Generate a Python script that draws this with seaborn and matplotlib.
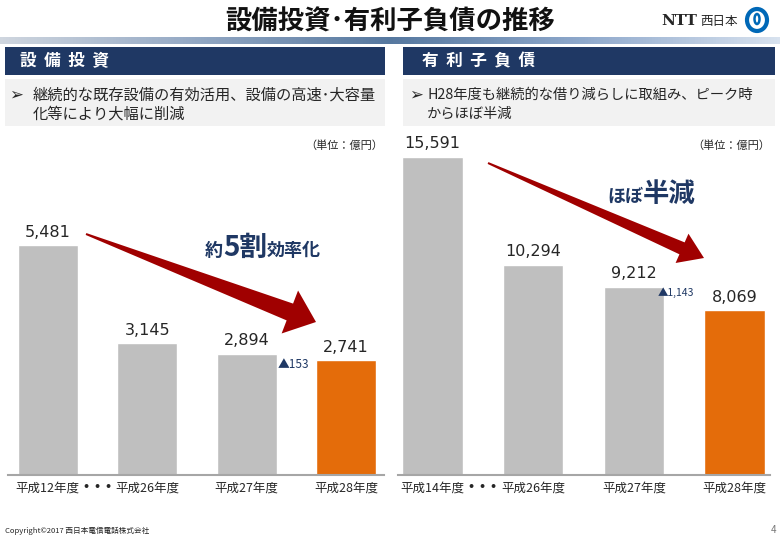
import numpy as np
import pandas as pd
import seaborn as sns
import matplotlib
matplotlib.use("Agg")
import matplotlib.pyplot as plt
from matplotlib.patches import Rectangle, Polygon, Ellipse

# data
capex_years = ["平成12年度", "平成26年度", "平成27年度", "平成28年度"]
capex_values = [5481, 3145, 2894, 2741]
debt_years = ["平成14年度", "平成26年度", "平成27年度", "平成28年度"]
debt_values = [15591, 10294, 9212, 8069]
bar_colors = ["#bfbfbf", "#bfbfbf", "#bfbfbf", "#e46c0a"]

W, H = 780, 540
NAVY = "#1f3864"
JP = ["Noto Sans CJK JP", "DejaVu Sans"]

sns.set_theme(style="white")
plt.rcParams["font.family"] = JP

fig = plt.figure(figsize=(W / 100, H / 100), dpi=100)


def fx(x):
    return x / W


def fy(y):
    return 1 - y / H


def box(x0, y0, x1, y1, color):
    fig.patches.append(Rectangle((fx(x0), fy(y1)), (x1 - x0) / W, (y1 - y0) / H,
                                 transform=fig.transFigure, facecolor=color,
                                 edgecolor="none", zorder=0))


def arrow(tail, tip, shaft, head, head_len):
    t = np.array(tail, float)
    p = np.array(tip, float)
    d = (p - t) / np.hypot(*(p - t))
    n = np.array([-d[1], d[0]])
    b = p - d * head_len
    pts = [t + n * 1, b + n * shaft / 2, b + n * head / 2, p,
           b - n * head / 2, b - n * shaft / 2, t - n * 1]
    fig.patches.append(Polygon([(fx(x), fy(y)) for x, y in pts], closed=True,
                               transform=fig.transFigure, facecolor="#a00000",
                               edgecolor="none", zorder=5))


def inline(parts, x, y, color=NAVY):
    # write text pieces of different sizes on one baseline
    r = fig.canvas.get_renderer()
    for txt, size in parts:
        t = fig.text(fx(x), fy(y), txt, fontsize=size, fontweight="bold",
                     color=color, va="baseline", ha="left")
        bb = t.get_window_extent(renderer=r)
        x = bb.x1


# header
fig.text(0.5, fy(22), "設備投資･有利子負債の推移", fontsize=19, fontweight="bold",
         ha="center", va="center", color="#111111")
fig.text(fx(661), fy(21), "NTT", fontsize=11, fontweight="bold",
         family="DejaVu Serif", ha="left", va="center")
fig.text(fx(700), fy(21), "西日本", fontsize=9, ha="left", va="center")
fig.patches.append(Ellipse((fx(757), fy(20)), 20 / W, 22 / H, transform=fig.transFigure,
                           facecolor="none", edgecolor="#0068b7", linewidth=3))
fig.patches.append(Ellipse((fx(757), fy(19)), 5 / W, 10 / H, transform=fig.transFigure,
                           facecolor="none", edgecolor="#0068b7", linewidth=1.8))

grad = fig.add_axes([0, fy(44), 1, 7 / H])
cmap = matplotlib.colors.LinearSegmentedColormap.from_list(
    "band", ["#cfd6df", "#93a8c4", "#56789f", "#8fa9cc", "#d8e2ef"])
grad.imshow(np.linspace(0, 1, 256)[None, :], aspect="auto", cmap=cmap)
grad.axis("off")

# section headers
box(5, 47, 385, 75, NAVY)
box(403, 47, 775, 75, NAVY)
fig.text(fx(20), fy(61), "設  備  投  資", fontsize=12, fontweight="bold", color="white", va="center")
fig.text(fx(422), fy(61), "有  利  子  負  債", fontsize=12, fontweight="bold", color="white", va="center")

box(5, 79, 385, 126, "#f2f2f2")
box(403, 79, 775, 126, "#f2f2f2")
fig.text(fx(9), fy(95), "➢", fontsize=12, family="DejaVu Sans", fontweight="bold", va="center")
fig.text(fx(33), fy(95), "継続的な既存設備の有効活用、設備の高速･大容量", fontsize=11, va="center")
fig.text(fx(33), fy(114), "化等により大幅に削減", fontsize=11, va="center")
fig.text(fx(409), fy(95), "➢", fontsize=12, family="DejaVu Sans", fontweight="bold", va="center")
fig.text(fx(427), fy(95), "H28年度も継続的な借り減らしに取組み、ピーク時", fontsize=10.3, va="center")
fig.text(fx(427), fy(114), "からほぼ半減", fontsize=10.3, va="center")

fig.text(fx(383), fy(146), "（単位：億円）", fontsize=8, ha="right", va="center")
fig.text(fx(770), fy(146), "（単位：億円）", fontsize=8, ha="right", va="center")

# bar charts
ax1 = fig.add_axes([fx(8), fy(475), (384 - 8) / W, (475 - 140) / H])
ax2 = fig.add_axes([fx(398), fy(475), (770 - 398) / W, (475 - 140) / H])


def draw_bars(ax, years, values, ytop, xlim):
    df = pd.DataFrame({"year": years, "value": values})
    sns.barplot(data=df, x="year", y="value", hue="year", palette=bar_colors,
                legend=False, width=0.6, saturation=1, ax=ax)
    for c in ax.containers:
        ax.bar_label(c, fmt="{:,.0f}", padding=4, fontsize=11.5, family="DejaVu Sans")
    ax.set_xlim(*xlim)
    ax.set_ylim(0, ytop)
    ax.set_xlabel("")
    ax.set_ylabel("")
    ax.set_yticks([])
    sns.despine(ax=ax, left=True)
    ax.spines["bottom"].set_color("#a6a6a6")
    ax.spines["bottom"].set_linewidth(1.5)
    ax.tick_params(axis="x", length=0, pad=5, labelsize=9)
    ax.set_facecolor("none")
    ax.text(0.5, -0.037, "• • •", transform=ax.get_xaxis_transform(), ha="center",
            va="center", fontsize=8, family="DejaVu Sans", fontweight="bold")


draw_bars(ax1, capex_years, capex_values, 8000, (-0.40, 3.38))
draw_bars(ax2, debt_years, debt_values, 16400, (-0.34, 3.35))

# arrows and notes
arrow((86, 234), (316, 322), shaft=18, head=46, head_len=28)
arrow((488, 163), (704, 258), shaft=13, head=32, head_len=24)

inline([("約", 13), ("5割", 20), ("効率化", 13)], 205, 256)
inline([("ほぼ", 13), ("半減", 19)], 607, 202)

fig.text(fx(278), fy(364), "▲153", fontsize=8.5, color=NAVY, va="center")
fig.text(fx(658), fy(293), "▲1,143", fontsize=7.5, color=NAVY, va="center")

# footer
fig.text(fx(5), fy(535), "Copyright©2017 西日本電信電話株式会社", fontsize=5.5, va="bottom")
fig.text(fx(776), fy(535), "4", fontsize=7, color="#777777", ha="right", va="bottom")

fig.savefig("out.png", dpi=100)
